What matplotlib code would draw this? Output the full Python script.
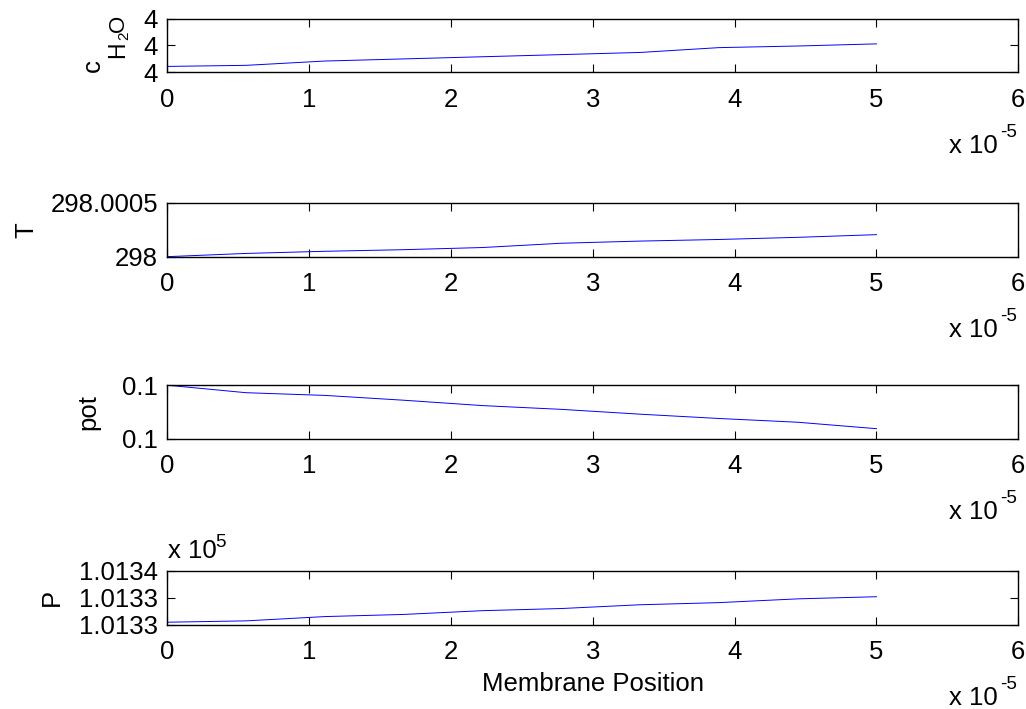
import matplotlib
matplotlib.use("Agg")
import matplotlib.pyplot as plt

plt.rcParams["font.family"] = ["Liberation Sans", "DejaVu Sans"]

# membrane position (x 1e-5), ten nodes
x_pos = [0.0, 0.556, 1.111, 1.667, 2.222, 2.778, 3.333, 3.889, 4.444, 5.0]
x_ticks = [0, 1, 2, 3, 4, 5, 6]

c_h2o = [3.999922, 3.999926, 3.999942, 3.999950, 3.999958,
         3.999966, 3.999974, 3.999992, 3.999998, 4.000006]
c_ticks = [3.9999, 4.0, 4.0001]
c_ticklabels = ["4", "4", "4"]

temp = [298.0, 298.00003, 298.00005, 298.000065, 298.000085,
        298.000125, 298.000145, 298.00016, 298.00018, 298.000205]
t_ticks = [298.0, 298.0005]
t_ticklabels = ["298", "298.0005"]

pot = [0.10001, 0.1000072, 0.1000062, 0.1000044, 0.1000024,
       0.100001, 0.0999992, 0.0999976, 0.0999962, 0.0999938]
pot_ticks = [0.09999, 0.10001]
pot_ticklabels = ["0.1", "0.1"]

# pressure in units of 1e5 Pa
press = [1.0133027, 1.0133042, 1.013309, 1.0133114, 1.0133156,
         1.013318, 1.0133222, 1.0133246, 1.0133288, 1.0133312]
p_ticks = [1.01330, 1.01333, 1.01336]
p_ticklabels = ["1.0133", "1.0133", "1.0134"]

panels = [
    ("", c_h2o, c_ticks, c_ticklabels, -0.043),
    ("T", temp, t_ticks, t_ticklabels, -0.152),
    ("pot", pot, pot_ticks, pot_ticklabels, -0.079),
    ("P", press, p_ticks, p_ticklabels, -0.122),
]
bottoms = [0.898, 0.638, 0.381, 0.119]

W, H = 1026, 709
fig = plt.figure(figsize=(W / 100, H / 100), dpi=100)

for (label, yvals, yt, ytl, lx), b in zip(panels, bottoms):
    ax = fig.add_axes([0.163, b, 0.8295, 0.0757])
    ax.plot(x_pos, yvals, color="#0000ff", lw=0.7)
    ax.set_xlim(0, 6)
    ax.set_ylim(yt[0], yt[-1])
    ax.set_xticks(x_ticks)
    ax.set_xticklabels([str(t) for t in x_ticks])
    ax.set_yticks(yt)
    ax.set_yticklabels(ytl)
    ax.tick_params(direction="in", top=True, right=True, length=6, width=0.8,
                   labelsize=18.5)
    ax.tick_params(axis="x", pad=11)
    ax.tick_params(axis="y", pad=6.5)
    for sp in ax.spines.values():
        sp.set_linewidth(1.0)
    if label:
        ax.set_ylabel(label, fontsize=18.5)
        ax.yaxis.set_label_coords(lx, 0.5)
    # x 10^-5 multiplier under the right end
    ax.annotate("x 10", xy=(1, 0), xycoords="axes fraction", xytext=(-69, -80.5),
                textcoords="offset pixels", fontsize=18.5, va="baseline", ha="left")
    ax.annotate("-5", xy=(1, 0), xycoords="axes fraction", xytext=(-18, -64.5),
                textcoords="offset pixels", fontsize=13.5, va="baseline", ha="left")

ax.set_xlabel("Membrane Position", fontsize=18.5, labelpad=6)
ax.annotate("x 10", xy=(0, 1), xycoords="axes fraction", xytext=(1, 13),
            textcoords="offset pixels", fontsize=18.5, va="baseline", ha="left")
ax.annotate("5", xy=(0, 1), xycoords="axes fraction", xytext=(48, 24),
            textcoords="offset pixels", fontsize=13.5, va="baseline", ha="left")

# c_H2O label, MATLAB-style subscripts, written bottom-to-top
for txt, px, py, fs in [("c", 100, 72, 18.5), ("H", 124, 57.5, 16.5),
                        ("2", 128.5, 40.5, 11), ("O", 124, 31.5, 16)]:
    fig.text(px / W, 1 - py / H, txt, fontsize=fs, rotation=90,
             rotation_mode="anchor", ha="left", va="baseline")

fig.savefig("out.png", dpi=100)
